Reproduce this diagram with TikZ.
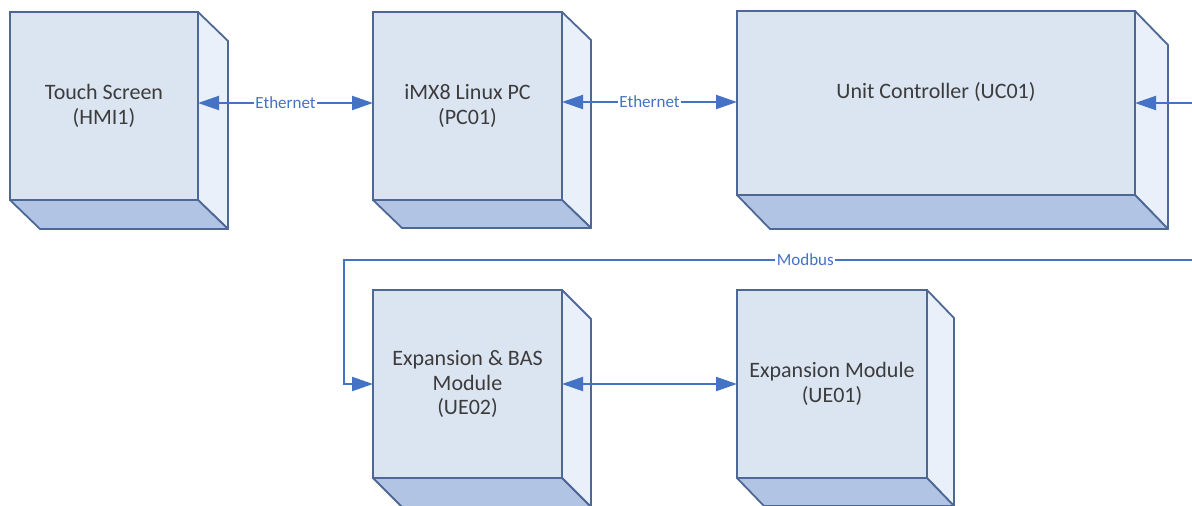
\documentclass[tikz,border=0pt]{standalone}
\usepackage{fontspec}
\setmainfont{Carlito}
\usetikzlibrary{arrows.meta}
\definecolor{frontc}{RGB}{219,228,241}
\definecolor{sidec}{RGB}{234,240,249}
\definecolor{botc}{RGB}{178,196,228}
\definecolor{edgec}{RGB}{78,104,150}
\definecolor{linkc}{RGB}{68,114,196}
\definecolor{txtc}{RGB}{60,60,60}
\tikzset{
  front/.style={draw=edgec, fill=frontc, line width=1.8pt, inner sep=0pt, outer sep=0pt,
    text=txtc, align=center, font=\fontsize{22}{24.5}\selectfont},
  sideface/.style={draw=edgec, fill=sidec, line width=1.8pt, line join=round},
  botface/.style={draw=edgec, fill=botc, line width=1.8pt, line join=round},
  tipshape/.style={},
  link/.style={draw=linkc, line width=2pt,
    {Triangle[length=21pt,width=14pt]}-{Triangle[length=21pt,width=14pt]}},
  linkone/.style={draw=linkc, line width=2pt, -{Triangle[length=21pt,width=14pt]}},
  lab/.style={fill=white, text=linkc, font=\fontsize{17}{20}\selectfont, inner sep=1.5pt}
}
\newcommand\depthfaces[3]{%
  \path[sideface] (#1.north east) -- ++(#2,#3) -- ([shift={(#2,#3)}]#1.south east) -- (#1.south east) -- cycle;
  \path[botface] (#1.south west) -- ++(#2,#3) -- ([shift={(#2,#3)}]#1.south east) -- (#1.south east) -- cycle;
}
\begin{document}
\begin{tikzpicture}[x=1pt,y=-1pt]
\clip (0,0) rectangle (1192,506);
\fill[white] (0,0) rectangle (1192,506);

\node[front, minimum width=188pt, minimum height=188pt] (hmi) at (104,106) {Touch Screen\\(HMI1)};
\depthfaces{hmi}{30}{29}
\node[front, minimum width=189pt, minimum height=188pt] (pc) at (467.5,106) {iMX8 Linux PC\\(PC01)};
\depthfaces{pc}{29}{28}
\node[front, minimum width=398pt, minimum height=184pt] (uc) at (936,103) {Unit Controller (UC01)\\\mbox{}};
\depthfaces{uc}{33}{34}
\node[front, minimum width=189pt, minimum height=188pt] (ue2) at (467.5,384) {Expansion \& BAS\\Module\\(UE02)};
\depthfaces{ue2}{29}{29}
\node[front, minimum width=190pt, minimum height=188pt] (ue1) at (832,384) {Expansion Module\\(UE01)};
\depthfaces{ue1}{27}{28}

\coordinate (ucin) at (1192,103);
\coordinate (mbin) at (1192,260);
\coordinate (mbturn) at (344,260);

\draw[link] ([yshift=3pt]hmi.east) -- node[lab]{Ethernet} ([yshift=3pt]pc.west);
\draw[link] ([yshift=4pt]pc.east) -- node[lab]{Ethernet} ([yshift=4pt]pc.east -| uc.west);
\draw[linkone] (ucin) -- (uc.east);
\draw[linkone] (mbin) -- node[lab, pos=0.456]{Modbus} (mbturn) |- (ue2.west);
\draw[link] (ue2.east) -- (ue1.west);
\end{tikzpicture}
\end{document}
